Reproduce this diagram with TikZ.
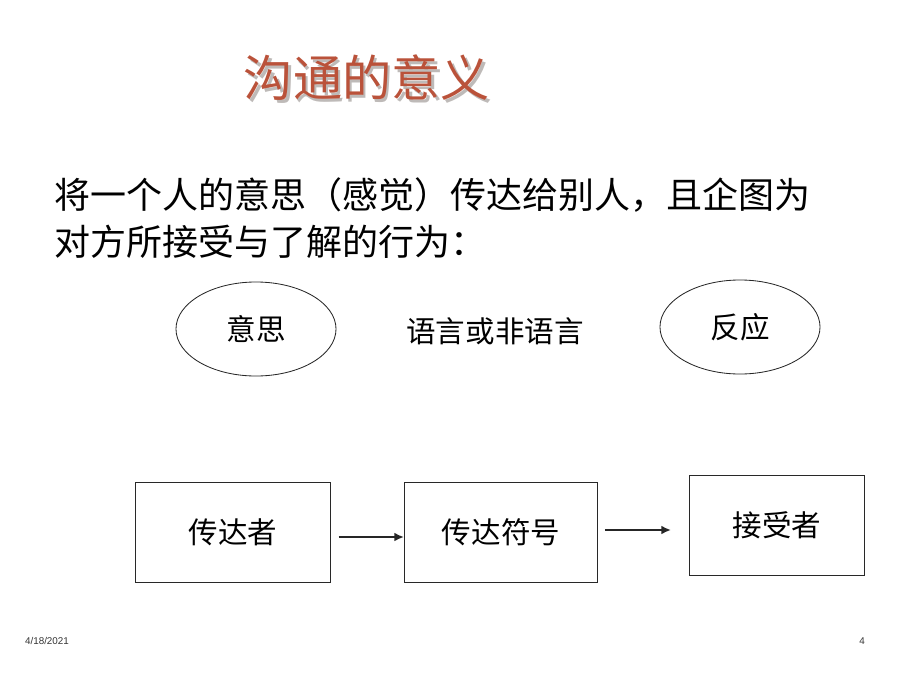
\documentclass[tikz,border=0pt]{standalone}
\usepackage{fontspec}
\setmainfont{Liberation Sans}
\newfontfamily\cjk{Noto Sans CJK SC}
\usetikzlibrary{arrows.meta, shapes.geometric}
\definecolor{titleA} {RGB}{186, 82, 58}
\definecolor{shadowA}{RGB}{190, 186, 184}
\definecolor{lineA}  {RGB}{40, 40, 40}

\begin{document}
\begin{tikzpicture}[x=0.025cm, y=-0.025cm,
    bubble/.style={ellipse, draw=lineA, line width=0.6pt, minimum width=4cm, minimum height=2.35cm, font=\cjk\fontsize{21}{24}\selectfont},
    party/.style={rectangle, draw=lineA, line width=0.7pt, minimum height=2.5cm, font=\cjk\fontsize{21}{24}\selectfont},
    flow/.style={-{Latex[length=2.4mm, width=2.2mm]}, line width=2pt, color=black!85}]
  \useasboundingbox (0,0) rectangle (920,690);

  % title with shadow
  \node[text=shadowA, font=\cjk\fontsize{35}{40}\selectfont] (titleshadow) at (369.5, 80.5) {沟通的意义};
  \node[text=titleA,  font=\cjk\fontsize{35}{40}\selectfont] (title) at (367, 78) {沟通的意义};

  \node[anchor=west, font=\cjk\fontsize{25.6}{30}\selectfont] (line1) at (50, 195) {将一个人的意思（感觉）传达给别人，且企图为};
  \node[anchor=west, font=\cjk\fontsize{25.6}{30}\selectfont] (line2) at (50, 242) {对方所接受与了解的行为：};

  \node[bubble] (meaning) at (256, 329) {意思};
  \node[font=\cjk\fontsize{21}{24}\selectfont] (language) at (495, 331) {语言或非语言};
  \node[bubble] (reaction) at (740, 327) {反应};

  \node[party, minimum width=4.85cm]  (sender)   at (233, 532) {传达者};
  \node[party, minimum width=4.825cm] (symbol)   at (501, 532) {传达符号};
  \node[party, minimum width=4.375cm] (receiver) at (777, 525) {接受者};

  \draw[flow, shorten <=2mm] (sender.east |- 0,537) -- (symbol.west |- 0,537);
  \draw[flow, shorten <=1.7mm, shorten >=4.5mm] (symbol.east |- 0,530) -- (receiver.west |- 0,530);

  \node[font=\fontsize{7}{8}\selectfont, text=black!80] (date) at (47, 641) {4/18/2021};
  \node[font=\fontsize{7}{8}\selectfont, text=black!80] (page) at (862, 641) {4};
\end{tikzpicture}
\end{document}
